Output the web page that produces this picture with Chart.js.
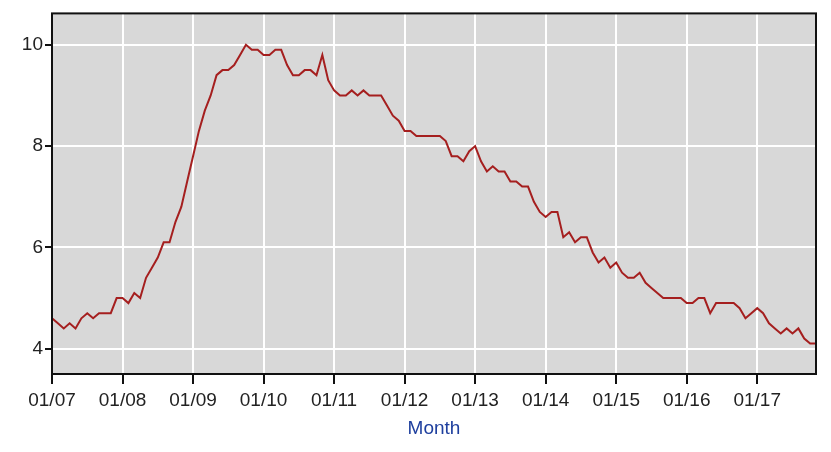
<!DOCTYPE html>
<html>
<head>
<meta charset="utf-8">
<script src="https://cdn.jsdelivr.net/npm/chart.js@4"></script>
<style>
html,body{margin:0;padding:0;background:#fff;}
#wrap{width:831px;height:452px;position:relative;}
</style>
</head>
<body>
<div id="wrap"><canvas id="c" width="831" height="452"></canvas></div>
<script>
// Monthly values, 01/2007 .. 11/2017
const years = ['07','08','09','10','11','12','13','14','15','16','17'];
const rate2007 = [4.6,4.5,4.4,4.5,4.4,4.6,4.7,4.6,4.7,4.7,4.7,5.0];
const rate2008 = [5.0,4.9,5.1,5.0,5.4,5.6,5.8,6.1,6.1,6.5,6.8,7.3];
const rate2009 = [7.8,8.3,8.7,9.0,9.4,9.5,9.5,9.6,9.8,10.0,9.9,9.9];
const rate2010 = [9.8,9.8,9.9,9.9,9.6,9.4,9.4,9.5,9.5,9.4,9.8,9.3];
const rate2011 = [9.1,9.0,9.0,9.1,9.0,9.1,9.0,9.0,9.0,8.8,8.6,8.5];
const rate2012 = [8.3,8.3,8.2,8.2,8.2,8.2,8.2,8.1,7.8,7.8,7.7,7.9];
const rate2013 = [8.0,7.7,7.5,7.6,7.5,7.5,7.3,7.3,7.2,7.2,6.9,6.7];
const rate2014 = [6.6,6.7,6.7,6.2,6.3,6.1,6.2,6.2,5.9,5.7,5.8,5.6];
const rate2015 = [5.7,5.5,5.4,5.4,5.5,5.3,5.2,5.1,5.0,5.0,5.0,5.0];
const rate2016 = [4.9,4.9,5.0,5.0,4.7,4.9,4.9,4.9,4.9,4.8,4.6,4.7];
const rate2017 = [4.8,4.7,4.5,4.4,4.3,4.4,4.3,4.4,4.2,4.1,4.1];
const yTicks = [4,6,8,10];

const values = [].concat(rate2007,rate2008,rate2009,rate2010,rate2011,rate2012,
  rate2013,rate2014,rate2015,rate2016,rate2017);
const months = ['01','02','03','04','05','06','07','08','09','10','11','12'];
const labels = values.map((v,i)=> months[i%12] + '/' + years[Math.floor(i/12)]);

const frame = {
  id:'frame',
  beforeDraw(chart){
    const a = chart.chartArea, ctx = chart.ctx;
    ctx.save();
    ctx.fillStyle = '#d8d8d8';
    ctx.fillRect(a.left, a.top, a.right-a.left, a.bottom-a.top);
    ctx.restore();
  },
  afterDraw(chart){
    const a = chart.chartArea, ctx = chart.ctx;
    ctx.save();
    ctx.strokeStyle = '#111';
    ctx.lineWidth = 2;
    ctx.strokeRect(a.left, a.top, a.right-a.left, a.bottom-a.top);
    ctx.restore();
  }
};

new Chart(document.getElementById('c'), {
  type:'line',
  data:{
    labels: labels,
    datasets:[{
      data: values,
      borderColor:'#a51f1f',
      borderWidth:2,
      pointRadius:0,
      tension:0,
      fill:false
    }]
  },
  options:{
    responsive:false,
    animation:false,
    layout:{padding:{left:0,right:15,top:12,bottom:0}},
    plugins:{legend:{display:false},tooltip:{enabled:false}},
    scales:{
      x:{
        type:'category',
        offset:false,
        border:{display:false},
        grid:{color:'#ffffff',lineWidth:2,tickColor:'#111',tickLength:10,drawOnChartArea:true},
        ticks:{
          autoSkip:false,maxRotation:0,minRotation:0,
          color:'#222',font:{family:'Liberation Sans, Arial, sans-serif',size:19},
          padding:5,
          callback:(v,i)=> (i%12===0) ? labels[i] : null
        },
        title:{display:true,text:'Month',color:'#1e3f9e',
          font:{family:'Liberation Sans, Arial, sans-serif',size:19},
          padding:{top:0,bottom:12}},
        afterFit:(s)=>{ s.height = 78; }
      },
      y:{
        min:3.5,max:10.62,
        border:{display:false},
        grid:{color:'#ffffff',lineWidth:2,tickColor:'#111',tickLength:7},
        afterBuildTicks:(s)=>{ s.ticks = yTicks.map(v=>({value:v})); },
        ticks:{color:'#222',font:{family:'Liberation Sans, Arial, sans-serif',size:19},padding:2},
        afterFit:(s)=>{ s.width = 52; }
      }
    }
  },
  plugins:[frame]
});
</script>
</body>
</html>
